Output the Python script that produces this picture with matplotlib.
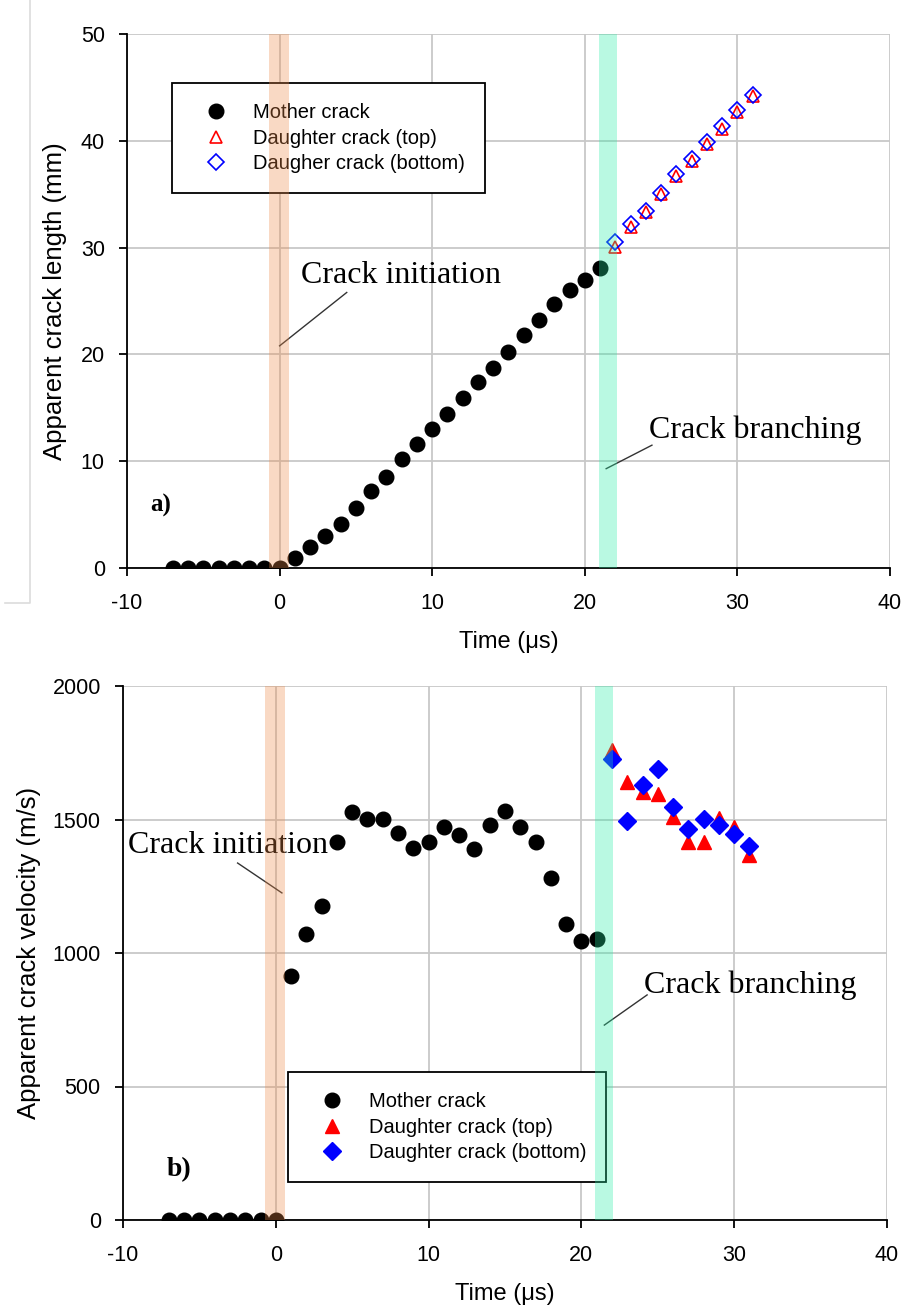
import matplotlib
matplotlib.use("Agg")
import matplotlib.pyplot as plt
from matplotlib.lines import Line2D

plt.rcParams['font.family'] = ['Liberation Sans', 'DejaVu Sans']
plt.rcParams['axes.unicode_minus'] = False

# time steps (us)
t_mother = list(range(-7, 22))
t_daughter = list(range(22, 32))

# crack length (mm)
len_mother = [0, 0, 0, 0, 0, 0, 0, 0,
              0.9, 2.0, 3.0, 4.1, 5.6, 7.2, 8.5, 10.2, 11.6, 13.0,
              14.4, 15.9, 17.4, 18.7, 20.2, 21.8, 23.2, 24.7, 26.0, 27.0, 28.1]
len_top = [30.1, 31.9, 33.3, 35.0, 36.7, 38.1, 39.7, 41.1, 42.7, 44.2]
len_bottom = [30.5, 32.2, 33.4, 35.1, 36.9, 38.3, 39.9, 41.4, 42.9, 44.3]

# crack velocity (m/s)
vel_mother = [0, 0, 0, 0, 0, 0, 0, 0,
              915, 1070, 1176, 1417, 1527, 1502, 1502, 1451, 1392, 1417,
              1471, 1442, 1390, 1479, 1532, 1471, 1415, 1280, 1107, 1046, 1051]
vel_top = [1760, 1642, 1604, 1595, 1511, 1417, 1417, 1505, 1473, 1367]
vel_bottom = [1726, 1496, 1630, 1688, 1546, 1464, 1501, 1480, 1445, 1399]

orange = (238/255, 138/255, 72/255)
cyan = (38/255, 238/255, 165/255)
serif = ['Liberation Serif', 'DejaVu Serif']

fig = plt.figure(figsize=(9.03, 13.12), dpi=100)
W, H = 903, 1312
ax1 = fig.add_axes([127/W, 1-568/H, 763/W, 534/H])
ax2 = fig.add_axes([123/W, 1-1220/H, 764/W, 534/H])


def style(ax, ymax, ystep):
    ax.set_xlim(-10, 40)
    ax.set_ylim(0, ymax)
    ax.set_xticks(range(-10, 41, 10))
    ax.set_yticks(range(0, ymax + 1, ystep))
    ax.grid(True, color='#c8c8c8', lw=1.3)
    ax.set_axisbelow(True)
    for s in ['top', 'right']:
        ax.spines[s].set_visible(False)
    for s in ['left', 'bottom']:
        ax.spines[s].set_linewidth(1.3)
        ax.spines[s].set_zorder(3)
    ax.tick_params(direction='out', length=6, width=1.3, labelsize=15.5)
    ax.tick_params(axis='x', pad=12)
    ax.tick_params(axis='y', pad=10)
    ax.set_xlabel('Time (\u03bcs)', fontsize=17, labelpad=12)
    ax.axvspan(-0.7, 0.6, color=orange, alpha=0.32, lw=0, zorder=6)
    ax.axvspan(20.9, 22.1, color=cyan, alpha=0.32, lw=0, zorder=6)


def legend(ax, anchor):
    leg = ax.legend(loc='upper left', bbox_to_anchor=anchor, numpoints=1,
                    fontsize=14.5, fancybox=False, edgecolor='black',
                    framealpha=1, borderpad=1.0, handletextpad=0.6,
                    labelspacing=0.32, borderaxespad=0, handlelength=2.4)
    leg.get_frame().set_linewidth(1.3)
    leg.set_zorder(5)


# a) crack length
style(ax1, 50, 10)
ax1.plot(t_mother, len_mother, 'o', color='black', ms=10.5, zorder=4,
         label='Mother crack')
ax1.plot(t_daughter, len_top, '^', mfc='none', mec='red', mew=1.2, ms=9,
         zorder=4, label='Daughter crack (top)')
ax1.plot(t_daughter, len_bottom, 'D', mfc='none', mec='blue', mew=1.2, ms=8,
         zorder=4, label='Daugher crack (bottom)')
ax1.set_ylabel('Apparent crack length (mm)', fontsize=18.5, labelpad=10)
legend(ax1, (0.059, 0.908))
ax1.text(1.4, 27.4, 'Crack initiation', family=serif, fontsize=23, va='center')
ax1.plot([0, 4.4], [20.8, 25.8], color='#333333', lw=1, zorder=5)
ax1.text(24.2, 12.9, 'Crack branching', family=serif, fontsize=23, va='center')
ax1.plot([21.4, 24.4], [9.3, 11.5], color='#333333', lw=1, zorder=5)
ax1.text(-7.8, 5.9, 'a)', family=serif, fontsize=18, fontweight='bold',
         va='center', ha='center')

# b) crack velocity
style(ax2, 2000, 500)
ax2.plot(t_mother, vel_mother, 'o', color='black', ms=10.5, zorder=4,
         label='Mother crack')
ax2.plot(t_daughter, vel_top, '^', color='red', ms=10, zorder=4,
         label='Daughter crack (top)')
ax2.plot(t_daughter, vel_bottom, 'D', color='blue', ms=9, zorder=4,
         label='Daughter crack (bottom)')
ax2.set_ylabel('Apparent crack velocity (m/s)', fontsize=18.5, labelpad=8)
legend(ax2, (0.216, 0.277))
ax2.text(-9.7, 1404, 'Crack initiation', family=serif, fontsize=23, va='center')
ax2.plot([-2.5, 0.4], [1337, 1225], color='#333333', lw=1, zorder=5)
ax2.text(24.1, 880, 'Crack branching', family=serif, fontsize=23, va='center')
ax2.plot([21.5, 24.3], [730, 843], color='#333333', lw=1, zorder=5)
ax2.text(-6.3, 187, 'b)', family=serif, fontsize=20, fontweight='bold',
         va='center', ha='center')

# faint border left over from the upper panel
fig.add_artist(Line2D([30/W, 30/W, 5/W], [1, 1-603/H, 1-603/H],
                      color='#dcdcdc', lw=1.2))

fig.savefig('out.png', dpi=100)
